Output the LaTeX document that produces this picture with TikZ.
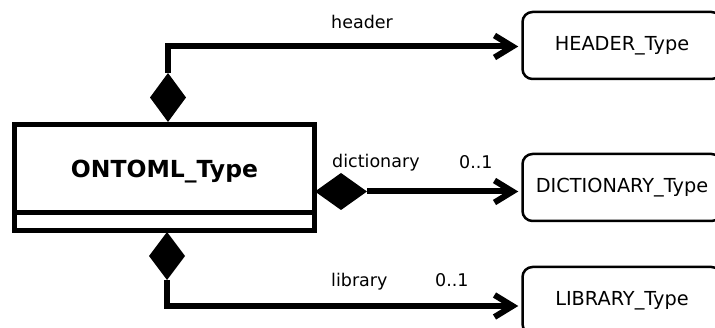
\documentclass[tikz,border=0pt]{standalone}
\usepackage{fontspec}
\setmainfont{DejaVu Sans}
\usetikzlibrary{arrows.meta,shapes.geometric}

\tikzset{
  classbox/.style={draw, line width=5pt, inner sep=0pt, minimum width=300pt},
  typebox/.style={draw, line width=2.5pt, rounded corners=10pt, inner sep=0pt,
    minimum width=199pt, minimum height=67pt, font=\fontsize{19.3}{22}\selectfont},
  compo/.style={diamond, fill=black, inner sep=0pt, outer sep=0pt},
  assoc/.style={line width=6pt, -{Straight Barb[length=18pt,width=22pt]}, shorten >=3pt},
  lbl/.style={inner sep=0pt, font=\fontsize{17.5}{20}\selectfont}
}

\begin{document}
\begin{tikzpicture}[x=1pt,y=-1pt]
            \useasboundingbox (0,0) rectangle (715,328);
            %Nodes
            \node[classbox, minimum height=88pt, text depth=0pt, font=\fontsize{23.5}{26}\selectfont\bfseries] at (164.5,168.5) (onto) {ONTOML\_Type};
            \node[classbox, minimum height=18pt] at (164.5,221.5) (ontoext) {};
            \node[compo, minimum width=36pt, minimum height=49pt] at (168,97.5)  (dhdr)  {};
            \node[compo, minimum width=52pt, minimum height=37pt] at (341,191.5) (ddict) {};
            \node[compo, minimum width=36pt, minimum height=48pt] at (167,256)   (dlib)  {};
            \node[typebox] at (622,45.5)  (header)  {HEADER\_Type};
            \node[typebox] at (622,187.5) (dict)    {DICTIONARY\_Type};
            \node[typebox] at (622,300.5) (library) {LIBRARY\_Type};
            \node[lbl, anchor=base west] at (331,29)  (lhdr)   {header};
            \node[lbl, anchor=base west] at (332,168) (ldict)  {dictionary};
            \node[lbl, anchor=base west] at (459,169) (mdict)  {0..1};
            \node[lbl, anchor=base west] at (331,287) (llib)   {library};
            \node[lbl, anchor=base west] at (435,287) (mlib)   {0..1};

            %Lines
            \draw[assoc] (dhdr.north) |- ([yshift=-1pt]header.west);
            \draw[assoc] (ddict.east) -- (dict.west |- ddict.east);
            \draw[assoc] (dlib.south) |- ([yshift=-5.5pt]library.west);
        \end{tikzpicture}
\end{document}
